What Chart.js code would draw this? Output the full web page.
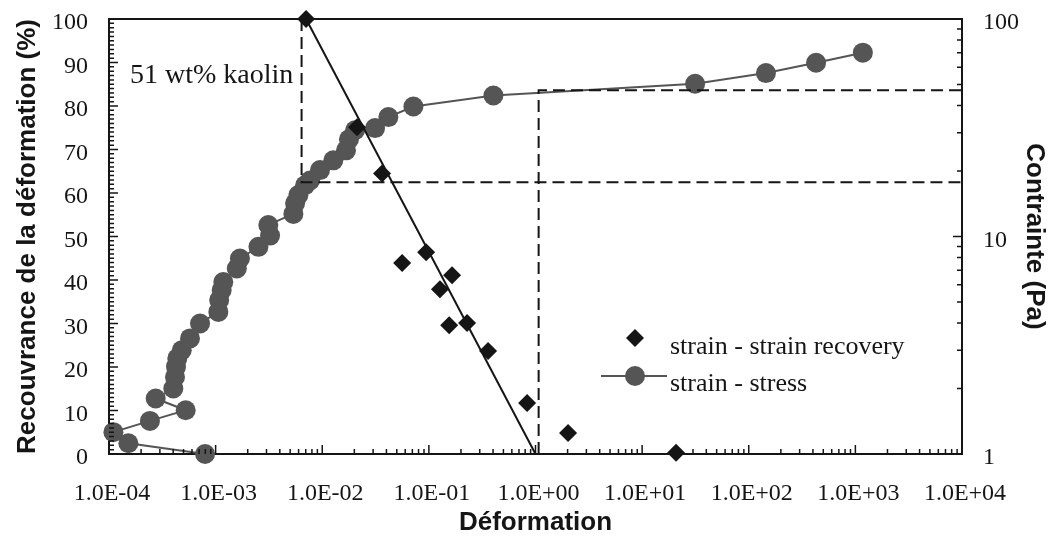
<!DOCTYPE html>
<html>
<head>
<meta charset="utf-8">
<script src="https://cdn.jsdelivr.net/npm/chart.js@4.4.1/dist/chart.umd.min.js"></script>
<style>
  html, body { margin: 0; padding: 0; background: #fff; }
  #c { display: block; }
</style>
</head>
<body>
<canvas id="c" width="1052" height="542"></canvas>
<script>
// strain - strain recovery (diamonds)
const recStrain = [7.05e-3, 0.0212, 0.0364, 0.0561, 0.0942, 0.165, 0.127, 0.155, 0.228, 0.359, 0.834, 2.02, 20.8]
const recValue  = [100, 75.1, 64.5, 43.9, 46.4, 41.1, 37.9, 29.6, 30.1, 23.7, 11.7, 4.8, 0.3]

// linear trend through the recovery points
const fitStrain = [7.05e-3, 1.0]
const fitValue  = [100, 0]

// strain - stress (circles, right axis in Pa), in measurement order
const stressStrain = [7.96e-4, 1.52e-4, 1.10e-4, 2.42e-4, 5.24e-4, 2.74e-4, 4.01e-4, 4.16e-4, 4.25e-4, 4.37e-4,
  4.81e-4, 5.75e-4, 7.14e-4, 1.06e-3, 1.08e-3, 1.14e-3, 1.18e-3, 1.58e-3, 1.69e-3, 2.52e-3,
  3.24e-3, 3.12e-3, 5.36e-3, 5.56e-3, 5.97e-3, 6.90e-3, 7.68e-3, 9.53e-3, 1.27e-2, 1.67e-2,
  1.78e-2, 2.03e-2, 3.13e-2, 4.17e-2, 7.16e-2, 0.403, 31.4, 145, 428, 1175]
const stressValue = [1.0, 1.12, 1.26, 1.42, 1.59, 1.80, 2.00, 2.26, 2.52, 2.75,
  3.00, 3.40, 3.98, 4.50, 5.10, 5.67, 6.18, 7.13, 7.92, 8.96,
  10.1, 11.3, 12.7, 14.2, 15.5, 17.2, 18.1, 20.2, 22.4, 24.9,
  28.0, 30.8, 31.5, 35.4, 39.6, 44.5, 50.4, 56.4, 62.9, 70.0]

// dashed guide lines (left axis units)
const guideAStrain = [6.4e-3, 6.4e-3, 1e4]
const guideAValue  = [100, 62.5, 62.5]
const guideBStrain = [1.07, 1.07, 1e4]
const guideBValue  = [0, 83.6, 83.6]

const xDecades = [-4, -3, -2, -1, 0, 1, 2, 3, 4]
const leftTicks = [0, 10, 20, 30, 40, 50, 60, 70, 80, 90, 100]
const rightTicks = [1, 10, 100]

const labels = ['strain - strain recovery', 'strain - stress']
const note = '51 wt% kaolin'
const xTitle = 'Déformation'
const yTitle = 'Recouvrance de la déformation (%)'
const y2Title = 'Contrainte (Pa)'

const serif = "'Liberation Serif', 'Times New Roman', serif"
const sans = "'Liberation Sans', Arial, sans-serif"
const ink = '#151515'
const grey = '#555555'

const pts = (xs, ys) => xs.map((x, i) => ({ x: x, y: ys[i] }))
const fmtExp = v => {
  const e = Math.round(Math.log10(v))
  return '1.0E' + (e < 0 ? '-' : '+') + String(Math.abs(e)).padStart(2, '0')
}

// inner tick marks, top border, note and legend
const frame = {
  id: 'frame',
  afterDraw(chart) {
    const { ctx, chartArea: a, scales } = chart
    ctx.save()
    ctx.strokeStyle = ink
    ctx.lineWidth = 2
    ctx.beginPath()
    ctx.moveTo(a.left, a.top); ctx.lineTo(a.right, a.top)
    ctx.stroke()

    ctx.lineWidth = 1.5
    ctx.beginPath()
    xDecades.forEach((d, i) => {
      for (let k = 1; k <= 9; k++) {
        if (i === xDecades.length - 1 && k > 1) break
        const px = scales.x.getPixelForValue(k * Math.pow(10, d))
        const len = k === 1 ? 9 : 5
        ctx.moveTo(px, a.bottom); ctx.lineTo(px, a.bottom - len)
      }
    })
    for (let v = 0; v <= 100; v += 1) {
      const py = scales.y.getPixelForValue(v)
      const len = v % 10 === 0 ? 9 : 5
      ctx.moveTo(a.left, py); ctx.lineTo(a.left + len, py)
    }
    for (let d = 0; d <= 2; d++) {
      for (let k = 1; k <= 9; k++) {
        if (d === 2 && k > 1) break
        const py = scales.y2.getPixelForValue(k * Math.pow(10, d))
        const len = k === 1 ? 9 : 5
        ctx.moveTo(a.right, py); ctx.lineTo(a.right - len, py)
      }
    }
    ctx.stroke()

    ctx.fillStyle = ink
    ctx.font = '28px ' + serif
    ctx.textBaseline = 'alphabetic'
    ctx.fillText(note, a.left + 21, a.top + 64)

    // legend
    ctx.font = '26px ' + serif
    const lx = 635
    ctx.beginPath()
    ctx.moveTo(lx - 9, 338); ctx.lineTo(lx, 329); ctx.lineTo(lx + 9, 338); ctx.lineTo(lx, 347)
    ctx.closePath()
    ctx.fill()
    ctx.fillText(labels[0], 670, 354)

    ctx.strokeStyle = grey
    ctx.lineWidth = 2
    ctx.beginPath()
    ctx.moveTo(601, 376); ctx.lineTo(667, 376)
    ctx.stroke()
    ctx.fillStyle = grey
    ctx.beginPath()
    ctx.arc(lx, 376, 10, 0, Math.PI * 2)
    ctx.fill()
    ctx.fillStyle = ink
    ctx.fillText(labels[1], 670, 391)
    ctx.restore()
  }
}

const ctx = document.getElementById('c')

const myChart = new Chart(ctx, {
  type: 'scatter',
  data: {
    datasets: [
      {
        label: labels[0],
        data: pts(recStrain, recValue),
        yAxisID: 'y',
        pointStyle: 'rectRot',
        pointRadius: 9,
        pointBackgroundColor: ink,
        pointBorderWidth: 0,
        clip: false
      },
      {
        label: 'fit',
        data: pts(fitStrain, fitValue),
        yAxisID: 'y',
        showLine: true,
        borderColor: ink,
        borderWidth: 2,
        pointRadius: 0,
        clip: false
      },
      {
        label: 'guide A',
        data: pts(guideAStrain, guideAValue),
        yAxisID: 'y',
        showLine: true,
        borderColor: ink,
        borderWidth: 2,
        borderDash: [12, 6],
        pointRadius: 0
      },
      {
        label: 'guide B',
        data: pts(guideBStrain, guideBValue),
        yAxisID: 'y',
        showLine: true,
        borderColor: ink,
        borderWidth: 2,
        borderDash: [12, 6],
        pointRadius: 0
      },
      {
        label: labels[1],
        data: pts(stressStrain, stressValue),
        yAxisID: 'y2',
        showLine: true,
        borderColor: grey,
        borderWidth: 2,
        pointRadius: 10,
        pointBackgroundColor: grey,
        pointBorderWidth: 0,
        clip: false
      }
    ]
  },
  options: {
    responsive: false,
    animation: false,
    events: [],
    devicePixelRatio: 1,
    layout: { padding: { top: 19, left: 0, right: 0, bottom: 0 } },
    plugins: {
      legend: { display: false },
      tooltip: { enabled: false }
    },
    scales: {
      x: {
        type: 'logarithmic',
        position: 'bottom',
        min: 1e-4,
        max: 1e4,
        border: { display: true, color: ink, width: 2 },
        grid: { display: false, drawTicks: false },
        afterBuildTicks: s => { s.ticks = xDecades.map(d => ({ value: Math.pow(10, d) })) },
        afterFit: s => { s.height = 88 },
        ticks: {
          autoSkip: false, maxRotation: 0, padding: 25, labelOffset: 3,
          color: ink, font: { family: serif, size: 24 },
          callback: v => fmtExp(v)
        },
        title: {
          display: true, text: xTitle, color: ink,
          font: { family: sans, size: 26, weight: 'bold' },
          padding: { top: 0, bottom: 4 }
        }
      },
      y: {
        type: 'linear',
        position: 'left',
        min: 0,
        max: 100,
        border: { display: true, color: ink, width: 2 },
        grid: { display: false, drawTicks: true, tickLength: 21 },
        afterBuildTicks: s => { s.ticks = leftTicks.map(v => ({ value: v })) },
        afterFit: s => { s.width = 109 },
        ticks: {
          padding: 0, labelOffset: 4,
          color: ink, font: { family: serif, size: 24 }
        },
        title: {
          display: true, text: yTitle, color: ink,
          font: { family: sans, size: 26, weight: 'bold' },
          padding: { top: 12, bottom: 0 }
        }
      },
      y2: {
        type: 'logarithmic',
        position: 'right',
        min: 1,
        max: 100,
        border: { display: true, color: ink, width: 2 },
        grid: { display: false, drawTicks: true, tickLength: 21 },
        afterBuildTicks: s => { s.ticks = rightTicks.map(v => ({ value: v })) },
        afterFit: s => { s.width = 90 },
        ticks: {
          padding: 0, labelOffset: 4,
          color: ink, font: { family: serif, size: 24 },
          callback: v => String(v)
        },
        title: {
          display: true, text: y2Title, color: ink,
          font: { family: sans, size: 26, weight: 'bold' },
          padding: { top: 2, bottom: 0 }
        }
      }
    }
  },
  plugins: [frame]
})
</script>
</body>
</html>
